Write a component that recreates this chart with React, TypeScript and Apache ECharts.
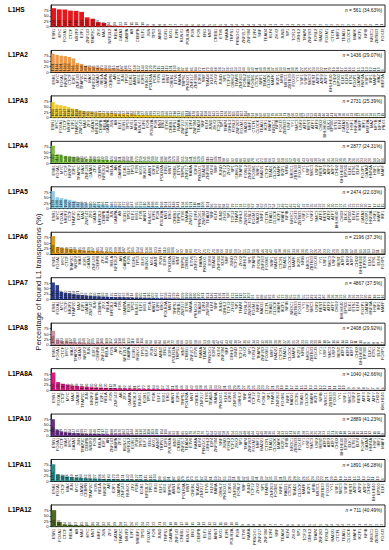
import React, { useEffect, useRef } from "react";
import * as echarts from "echarts";

const PANELS = ["L1HS", "L1PA2", "L1PA3", "L1PA4", "L1PA5", "L1PA6", "L1PA7", "L1PA8", "L1PA8A", "L1PA10", "L1PA11", "L1PA12"];
const N_TOTAL = [561, 1436, 2731, 2877, 2474, 2196, 4867, 2408, 1040, 2889, 1891, 711];
const N_PCT = ["34.63%", "29.07%", "25.39%", "24.31%", "22.03%", "37.3%", "37.5%", "29.92%", "42.66%", "41.23%", "46.28%", "40.49%"];
const COLORS = ["#e8161b", "#f39a4a", "#f2c81a", "#7dc242", "#8fcbea", "#e39a16", "#2c3e93", "#d28e9c", "#e0197f", "#6b2a8c", "#2a8a8a", "#4e6b1f"];

const TF_L1HS = "ESR1 MYC FOXA1 CTCF NR2F2 E2F1 ZNF143 TFAP2C ZFX MAX NFE2L2 RELA GATA3 GABPA AR CEBPB ELF1 JUN TP53 ARNT EGR1 MXI1 E2F6 RUNX1 POLR2A PGR FOS ERG MNT CREB1 ETV6 RARA TRPS1 PKNOX1 ZNF217 ZNF384 E2F4 SRF TEAD4 KLF4 ZHX2 JUND SP1 TCF12 GRHL2 TFAP4 ZNF263 FOSL2 RAD21 FOXM1 CTCFL NRF1 TEAD1 CLOCK MAFK IKZF1 NFIB NR3C1 ZBTB33 FOXJ3".split(" ");
const CNT_L1HS = [478, 448, 445, 416, 410, 383, 242, 207, 119, 97, 34, 29, 22, 19, 11, 10, 10, 9, 8, 8, 8, 7, 7, 7, 6, 6, 6, 6, 5, 5, 5, 4, 4, 4, 4, 4, 4, 4, 4, 3, 3, 3, 3, 3, 3, 3, 3, 3, 2, 2, 2, 2, 2, 2, 2, 2, 2, 2, 1, 1];

const TF_L1PA2 = "ESR1 MYC FOXA1 NR2F2 CTCF E2F1 ZNF143 TFAP2C ZFX MAX NFE2L2 GATA3 RELA GABPA CEBPB AR ELF1 JUN TP53 EGR1 ARNT MXI1 E2F6 RUNX1 POLR2A PGR FOS ERG MNT CREB1 ETV6 RARA TRPS1 PKNOX1 ZNF217 ZNF384 E2F4 SRF TEAD4 KLF4 ZHX2 JUND SP1 TCF12 GRHL2 TFAP4 ZNF263 FOSL2 RAD21 FOXM1 CTCFL NRF1 TEAD1 CLOCK MAFK IKZF1 NFIB NR3C1 ZBTB33 FOXJ3 YY1 USF1 USF2 SMC3 REST ATF3 ATF2 ATF7 BHLHE40 CHD2 EP300 ELK1 ELF4 ETS1 FOXP1 GATA2 HNF4A HSF1 IRF1 MAFF MAZ MEF2A".split(" ");
const CNT_L1PA2 = [1221, 1134, 1091, 1063, 1005, 905, 603, 546, 431, 373, 345, 316, 273, 244, 230, 215, 201, 187, 186, 172, 158, 157, 144, 143, 129, 128, 115, 114, 113, 101, 100, 99, 87, 86, 85, 84, 72, 71, 70, 69, 68, 58, 57, 56, 55, 54, 53, 44, 43, 42, 41, 40, 39, 38, 37, 35, 33, 32, 31, 30, 28, 27, 26, 25, 24, 23, 22, 21, 20, 19, 18, 17, 16, 16, 15, 15, 14, 13, 12, 11, 10, 9];

const TF_L1PA3 = "ESR1 MYC FOXA1 CTCF NR2F2 E2F1 TFAP2C ZNF143 MAX ZFX GATA3 NFE2L2 CEBPB RELA GABPA JUN AR ELF1 EGR1 TP53 MXI1 ARNT RUNX1 E2F6 FOS POLR2A PGR MNT ERG ETV6 CREB1 TRPS1 RARA ZNF217 PKNOX1 E2F4 ZNF384 TEAD4 SRF KLF4 JUND ZHX2 TCF12 SP1 TFAP4 GRHL2 FOSL2 ZNF263 FOXM1 RAD21 NRF1 CTCFL CLOCK TEAD1 IKZF1 MAFK NR3C1 NFIB FOXJ3 ZBTB33 USF1 YY1 SMC3 USF2 ATF3 REST ATF7 ATF2 CHD2 BHLHE40 ELK1 EP300 ETS1 ELF4 GATA2 FOXP1 HSF1 HNF4A MAFF IRF1 MEF2A MAZ NFYB NFYA PBX3".split(" ");
const CNT_L1PA3 = [1966, 1639, 1557, 1447, 1311, 1147, 1038, 929, 819, 765, 710, 655, 601, 573, 546, 519, 492, 464, 437, 410, 382, 355, 328, 327, 300, 299, 273, 272, 259, 246, 232, 218, 213, 205, 191, 186, 178, 169, 164, 158, 150, 142, 137, 131, 126, 120, 115, 109, 107, 104, 98, 93, 90, 87, 85, 82, 79, 76, 74, 71, 68, 66, 63, 60, 57, 55, 52, 49, 48, 46, 44, 41, 40, 38, 36, 35, 33, 30, 27, 26, 25, 24, 22, 21, 19];

const TF_L1PA4 = "ESR1 FOXA1 MYC CTCF NR2F2 E2F1 TFAP2C MAX ZNF143 GATA3 ZFX CEBPB NFE2L2 JUN RELA AR GABPA EGR1 ELF1 TP53 FOS MXI1 RUNX1 ARNT E2F6 PGR POLR2A ERG MNT CREB1 ETV6 TRPS1 ZNF217 RARA E2F4 PKNOX1 TEAD4 ZNF384 KLF4 SRF JUND TCF12 ZHX2 SP1 GRHL2 TFAP4 FOSL2 ZNF263 FOXM1 NRF1 RAD21 CTCFL TEAD1 CLOCK MAFK IKZF1 NFIB NR3C1 ZBTB33 FOXJ3 YY1 USF1 SMC3 USF2 REST ATF3 ATF2 ATF7 CHD2 BHLHE40 EP300 ELK1 ETS1 ELF4 FOXP1 GATA2 HNF4A HSF1 IRF1 MAFF".split(" ");
const CNT_L1PA4 = [2302, 1151, 1036, 949, 863, 806, 719, 633, 575, 518, 489, 460, 432, 403, 374, 345, 331, 316, 302, 288, 273, 259, 245, 230, 219, 207, 196, 187, 178, 173, 164, 155, 147, 141, 135, 129, 124, 118, 112, 106, 101, 98, 95, 92, 89, 86, 83, 81, 78, 75, 72, 69, 66, 63, 60, 58, 55, 52, 49, 46, 43, 42, 40, 39, 37, 36, 35, 34, 32, 31, 29, 28, 26, 25, 23, 22, 20, 19, 17, 16];

const TF_L1PA5 = "ESR1 MYC FOXA1 NR2F2 CTCF TFAP2C E2F1 MAX ZNF143 ZFX GATA3 NFE2L2 CEBPB RELA JUN GABPA AR EGR1 TP53 ELF1 MXI1 FOS ARNT RUNX1 E2F6 PGR POLR2A MNT ERG CREB1 TRPS1 ETV6 RARA ZNF217 E2F4 PKNOX1 ZNF384 TEAD4 SRF KLF4 JUND ZHX2 SP1 TCF12 TFAP4 GRHL2 ZNF263 FOSL2 FOXM1 RAD21 NRF1 CTCFL TEAD1 CLOCK IKZF1 MAFK NFIB NR3C1 FOXJ3 ZBTB33 USF1 YY1 USF2 SMC3 ATF3 REST ATF2 ATF7 BHLHE40 CHD2 ELK1 EP300 ELF4 ETS1 GATA2 FOXP1 HNF4A HSF1 MAFF IRF1".split(" ");
const CNT_L1PA5 = [1979, 1286, 1188, 1089, 990, 891, 742, 668, 594, 520, 470, 421, 396, 371, 346, 322, 297, 272, 260, 247, 235, 223, 210, 198, 188, 178, 168, 161, 153, 148, 141, 134, 126, 121, 116, 111, 106, 101, 96, 92, 87, 84, 82, 79, 77, 74, 72, 69, 67, 64, 62, 59, 57, 54, 52, 49, 47, 45, 42, 40, 37, 37, 35, 35, 32, 32, 30, 30, 27, 27, 25, 25, 22, 22, 20, 20, 17, 17, 15, 15];

const TF_L1PA6 = "ESR1 FOXA1 MYC CTCF TFAP2C NR2F2 MAX E2F1 GATA3 ZNF143 CEBPB ZFX JUN RELA NFE2L2 AR GABPA FOS EGR1 TP53 ELF1 RUNX1 MXI1 ARNT PGR E2F6 POLR2A ERG MNT TRPS1 CREB1 ETV6 ZNF217 RARA PKNOX1 E2F4 TEAD4 ZNF384 KLF4 SRF JUND TCF12 ZHX2 GRHL2 SP1 TFAP4 FOSL2 ZNF263 FOXM1 NRF1 RAD21 CTCFL TEAD1 CLOCK MAFK IKZF1 NFIB NR3C1 ZBTB33 FOXJ3 YY1 USF1 SMC3 USF2 REST ATF3 ATF2 ATF7 CHD2 BHLHE40 EP300 ELK1 ETS1 ELF4 FOXP1".split(" ");
const CNT_L1PA6 = [1801, 703, 615, 549, 483, 439, 395, 351, 329, 307, 285, 264, 242, 220, 209, 198, 187, 176, 165, 154, 145, 136, 130, 123, 116, 110, 105, 101, 97, 92, 88, 83, 79, 77, 75, 72, 70, 68, 66, 64, 61, 59, 57, 55, 53, 51, 48, 46, 44, 42, 40, 38, 36, 35, 33, 31, 30, 29, 27, 26, 24, 23, 22, 21, 20, 19, 18, 17, 16, 15, 14, 13, 12, 11, 10];

const TF_L1PA7 = "ESR1 FOXA1 MYC CTCF NR2F2 TFAP2C MAX E2F1 GATA3 ZNF143 JUN CEBPB ZFX RELA NFE2L2 AR FOS GABPA EGR1 TP53 RUNX1 ELF1 MXI1 PGR ARNT E2F6 ERG POLR2A MNT TRPS1 CREB1 ZNF217 ETV6 RARA PKNOX1 TEAD4 E2F4 ZNF384 KLF4 SRF JUND GRHL2 TCF12 ZHX2 SP1 TFAP4 FOSL2 ZNF263 FOXM1 NRF1 RAD21 CTCFL TEAD1 CLOCK MAFK IKZF1 NFIB NR3C1 ZBTB33 FOXJ3 YY1 USF1 SMC3 USF2 REST ATF3 ATF2 ATF7 CHD2 BHLHE40 EP300 ELK1 ETS1 ELF4 FOXP1 GATA2 HNF4A HSF1 IRF1 MAFF".split(" ");
const CNT_L1PA7 = [3796, 3212, 1703, 1460, 1314, 1168, 1071, 973, 876, 779, 730, 681, 633, 584, 535, 511, 487, 462, 438, 414, 389, 365, 341, 316, 302, 287, 272, 258, 243, 229, 219, 209, 199, 190, 180, 170, 161, 151, 146, 141, 136, 131, 126, 122, 117, 112, 107, 102, 97, 92, 88, 85, 82, 78, 75, 72, 68, 65, 62, 58, 55, 52, 49, 46, 43, 40, 38, 36, 34, 32, 30, 28, 26, 24, 22, 20, 19, 18, 17, 16];

const TF_L1PA8 = "ESR1 FOXA1 CTCF MYC MAX TFAP2C GATA3 NR2F2 JUN E2F1 CEBPB ZNF143 RELA FOS AR ZFX NFE2L2 GABPA EGR1 RUNX1 TP53 ELF1 PGR MXI1 ARNT ERG E2F6 POLR2A TRPS1 MNT CREB1 ZNF217 ETV6 RARA TEAD4 PKNOX1 E2F4 KLF4 ZNF384 SRF GRHL2 JUND TCF12 ZHX2 SP1 FOSL2 TFAP4 ZNF263 FOXM1 NRF1 RAD21 CTCFL TEAD1 CLOCK MAFK IKZF1 NFIB NR3C1 ZBTB33 FOXJ3 YY1 USF1 SMC3 USF2 REST ATF3 ATF2 ATF7 CHD2 BHLHE40 EP300 ELK1 ETS1 ELF4 FOXP1".split(" ");
const CNT_L1PA8 = [1565, 530, 433, 385, 337, 289, 265, 241, 217, 205, 193, 181, 169, 157, 145, 138, 130, 123, 116, 109, 104, 99, 94, 89, 84, 80, 76, 72, 69, 66, 63, 60, 58, 55, 53, 51, 49, 47, 45, 43, 41, 39, 37, 36, 35, 34, 33, 32, 31, 30, 29, 28, 27, 26, 25, 24, 23, 22, 21, 20, 19, 18, 17, 16, 15, 14, 13, 12, 11, 10, 9, 9, 8, 8, 7];

const TF_L1PA8A = "ESR1 FOXA1 CTCF MYC MAX GATA3 TFAP2C JUN NR2F2 CEBPB E2F1 RELA FOS ZNF143 AR ZFX GABPA NFE2L2 RUNX1 EGR1 TP53 PGR ELF1 MXI1 ERG ARNT E2F6 TRPS1 POLR2A MNT CREB1 ZNF217 ETV6 TEAD4 RARA PKNOX1 KLF4 E2F4 ZNF384 GRHL2 SRF JUND TCF12 ZHX2 FOSL2 SP1 TFAP4 ZNF263 FOXM1 NRF1 RAD21 CTCFL TEAD1 CLOCK MAFK IKZF1 NFIB NR3C1 ZBTB33 FOXJ3 YY1 USF1 SMC3 USF2 REST ATF3 ATF2 ATF7 CHD2 BHLHE40".split(" ");
const CNT_L1PA8A = [853, 395, 312, 270, 229, 208, 187, 166, 150, 140, 130, 120, 112, 104, 98, 92, 86, 81, 76, 72, 68, 64, 60, 57, 54, 51, 48, 46, 44, 42, 40, 38, 36, 34, 33, 32, 31, 30, 29, 28, 27, 26, 25, 24, 23, 22, 21, 20, 19, 18, 17, 16, 15, 14, 13, 13, 12, 12, 11, 11, 10, 10, 9, 9, 8, 8, 7, 7, 6, 6];

const TF_L1PA10 = "ESR1 FOXA1 CTCF MAX MYC GATA3 JUN TFAP2C CEBPB NR2F2 FOS RELA E2F1 AR ZNF143 GABPA ZFX RUNX1 NFE2L2 EGR1 PGR TP53 ELF1 ERG MXI1 ARNT TRPS1 E2F6 POLR2A MNT CREB1 ZNF217 TEAD4 ETV6 RARA KLF4 PKNOX1 GRHL2 E2F4 ZNF384 SRF JUND FOSL2 TCF12 ZHX2 SP1 TFAP4 ZNF263 FOXM1 NRF1 RAD21 CTCFL TEAD1 CLOCK MAFK IKZF1 NFIB NR3C1 ZBTB33 FOXJ3 YY1 USF1 SMC3 USF2 REST ATF3 ATF2 ATF7 CHD2 BHLHE40 EP300 ELK1 ETS1 ELF4 FOXP1 GATA2 HNF4A HSF1 IRF1 MAFF".split(" ");
const CNT_L1PA10 = [2196, 751, 578, 462, 404, 347, 335, 289, 272, 260, 246, 231, 217, 202, 188, 179, 170, 162, 153, 144, 136, 130, 124, 118, 113, 108, 104, 100, 96, 92, 88, 85, 82, 79, 76, 73, 70, 67, 64, 62, 60, 58, 56, 54, 52, 50, 48, 46, 44, 42, 40, 38, 36, 35, 34, 33, 32, 31, 30, 29, 28, 27, 26, 25, 24, 23, 22, 21, 20, 19, 18, 17, 16, 15, 14, 13, 12, 11, 10, 9];

const TF_L1PA11 = "ESR1 FOXA1 CTCF MAX JUN MYC GATA3 CEBPB TFAP2C FOS RELA NR2F2 AR E2F1 GABPA ZNF143 RUNX1 ZFX PGR EGR1 NFE2L2 TP53 ERG ELF1 MXI1 TRPS1 ARNT E2F6 POLR2A MNT CREB1 TEAD4 ZNF217 ETV6 KLF4 RARA GRHL2 PKNOX1 E2F4 ZNF384 FOSL2 SRF JUND TCF12 ZHX2 SP1 TFAP4 ZNF263 FOXM1 NRF1 RAD21 CTCFL TEAD1 CLOCK MAFK IKZF1 NFIB NR3C1 ZBTB33 FOXJ3 YY1 USF1 SMC3 USF2 REST ATF3 ATF2 ATF7 CHD2 BHLHE40 EP300 ELK1".split(" ");
const CNT_L1PA11 = [1475, 605, 492, 416, 359, 321, 284, 265, 246, 227, 208, 195, 183, 170, 159, 151, 142, 134, 127, 121, 115, 110, 104, 99, 95, 91, 87, 83, 79, 76, 73, 70, 67, 64, 61, 59, 57, 55, 53, 51, 49, 47, 45, 43, 41, 39, 37, 35, 33, 31, 30, 29, 28, 27, 26, 25, 24, 23, 22, 21, 20, 19, 18, 17, 16, 15, 14, 13, 12, 11, 10, 9];

const TF_L1PA12 = "ESR1 FOXA1 CTCF RELA AR MAX MYC MNT NRF1 JUN ZFX GATA3 TFAP2C NR2F2 E2F1 SREBF1 TP53 FOXM1 FOS JUND TRPS1 GABPA ZNF143 CREB1 RUNX1 ERG CEBPB ELF1 EGR1 ARNT MXI1 E2F6 POLR2A PGR ETV6 RARA PKNOX1 ZNF217 ZNF384 E2F4 SRF TEAD4 KLF4 ZHX2 SP1 TCF12 GRHL2 TFAP4 ZNF263 FOSL2 RAD21 CTCFL TEAD1 CLOCK MAFK IKZF1 NFIB NR3C1 ZBTB33 FOXJ3".split(" ");
const CNT_L1PA12 = [540, 156, 74, 60, 52, 45, 40, 36, 34, 32, 30, 29, 28, 27, 26, 25, 24, 23, 22, 21, 20, 19, 18, 17, 16, 15, 14, 13, 12, 12, 11, 11, 10, 10, 9, 9, 8, 8, 8, 7, 7, 7, 6, 6, 6, 5, 5, 5, 5, 4, 4, 4, 4, 3, 3, 3, 3, 2, 2, 2];

const TF_LISTS = [TF_L1HS, TF_L1PA2, TF_L1PA3, TF_L1PA4, TF_L1PA5, TF_L1PA6, TF_L1PA7, TF_L1PA8, TF_L1PA8A, TF_L1PA10, TF_L1PA11, TF_L1PA12];
const COUNT_LISTS = [CNT_L1HS, CNT_L1PA2, CNT_L1PA3, CNT_L1PA4, CNT_L1PA5, CNT_L1PA6, CNT_L1PA7, CNT_L1PA8, CNT_L1PA8A, CNT_L1PA10, CNT_L1PA11, CNT_L1PA12];
const Y_TICKS = [0, 25, 50, 75];
const Y_TITLE = "Percentage of bound L1 transposons (%)";

const FONT = "'Liberation Sans', Arial, sans-serif";

export default function App() {
  const ref = useRef<HTMLDivElement>(null);
  useEffect(() => {
    if (!ref.current) return;
    const chart = echarts.init(ref.current, undefined, { renderer: "svg" });
    const STEP = 45.45;
    const TOP0 = 5;
    const GH = 21.7;
    const LEFT = 51;
    const GW = 334;
    const grids: any[] = [];
    const xAxes: any[] = [];
    const yAxes: any[] = [];
    const series: any[] = [];
    const graphics: any[] = [];
    PANELS.forEach((name, i) => {
      const top = TOP0 + i * STEP;
      const cnt = COUNT_LISTS[i];
      const len = Math.min(cnt.length, TF_LISTS[i].length);
      const names = TF_LISTS[i].slice(0, len);
      const counts = cnt.slice(0, len);
      grids.push({ left: LEFT, top, width: GW, height: GH, show: true, borderColor: "#111", borderWidth: 0.9, backgroundColor: "transparent" });
      xAxes.push({
        type: "category",
        gridIndex: i,
        data: names,
        axisLine: { lineStyle: { color: "#111", width: 0.9 } },
        axisTick: { show: false },
        axisLabel: { rotate: 90, interval: 0, fontSize: 4, margin: 2, color: "#111", fontFamily: FONT },
      });
      yAxes.push({
        type: "value",
        gridIndex: i,
        min: 0,
        max: 100,
        interval: 25,
        axisLine: { show: true, lineStyle: { color: "#111", width: 0.9 } },
        axisTick: { show: true, length: 1.5, lineStyle: { color: "#111", width: 0.6 } },
        axisLabel: { fontSize: 4.2, margin: 2.5, color: "#111", fontFamily: FONT, showMaxLabel: false, formatter: (v: number) => (Y_TICKS.includes(v) ? String(v) : "") },
        splitLine: { show: false },
      });
      series.push({
        type: "bar",
        xAxisIndex: i,
        yAxisIndex: i,
        data: counts.map((c) => (c / N_TOTAL[i]) * 100),
        barCategoryGap: "14%",
        itemStyle: { color: COLORS[i] },
        label: {
          show: true,
          position: "insideBottom",
          rotate: 90,
          align: "left",
          verticalAlign: "middle",
          distance: 1,
          fontSize: 3.5,
          color: "#111",
          fontFamily: FONT,
          formatter: (p: any) => String(counts[p.dataIndex]),
        },
      });
      graphics.push({
        type: "text",
        left: 8,
        top: top + 1,
        style: { text: name, fontSize: 6.5, fontWeight: "bold", fontFamily: FONT, fill: "#000" },
      });
      graphics.push({
        type: "text",
        right: 7,
        top: top + 3,
        style: {
          text: "{i|n} = " + N_TOTAL[i] + " (" + N_PCT[i] + ")",
          fontSize: 4.8,
          fontFamily: FONT,
          fill: "#111",
          rich: { i: { fontStyle: "italic", fontSize: 4.8, fontFamily: FONT, fill: "#111" } },
        },
      });
    });
    graphics.push({
      type: "text",
      x: 38,
      y: 282,
      rotation: Math.PI / 2,
      style: { text: Y_TITLE, fontSize: 7.5, fontFamily: FONT, fill: "#222", textAlign: "center", textVerticalAlign: "middle" },
    });
    chart.setOption({
      animation: false,
      backgroundColor: "#fff",
      grid: grids,
      xAxis: xAxes,
      yAxis: yAxes,
      series,
      graphic: graphics,
    });
    return () => chart.dispose();
  }, []);
  return <div ref={ref} style={{ position: "fixed", left: 0, top: 0, width: 389, height: 550 }} />;
}
